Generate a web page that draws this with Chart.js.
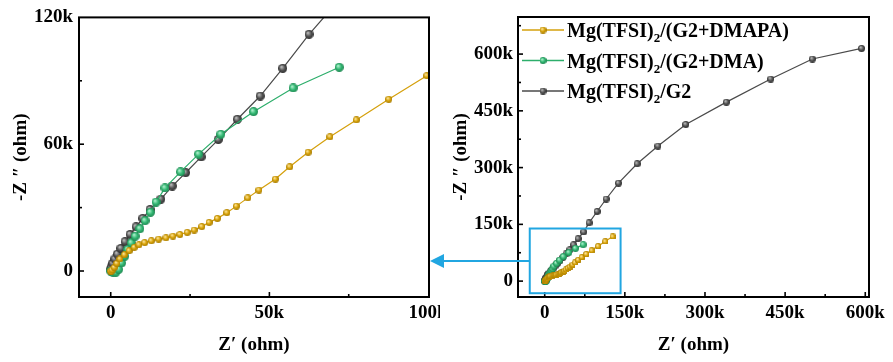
<!DOCTYPE html>
<html>
<head>
<meta charset="utf-8">
<script src="https://cdn.jsdelivr.net/npm/chart.js@4.4.0/dist/chart.umd.min.js"></script>
<style>
  html, body { margin: 0; padding: 0; background: #fff; }
  #wrap { position: relative; width: 893px; height: 362px; overflow: hidden; }
  #zoomChart { position: absolute; left: 0; top: 0; }
  #fullChart { position: absolute; left: 425px; top: 0; }
</style>
</head>
<body>
<div id="wrap">
  <canvas id="zoomChart" width="460" height="362"></canvas>
  <canvas id="fullChart" width="468" height="362"></canvas>
</div>
<script>
'use strict'

// values in k-ohm
const seriesNames = ['Mg(TFSI)₂/(G2+DMAPA)', 'Mg(TFSI)₂/(G2+DMA)', 'Mg(TFSI)₂/G2'];

const dmapaX = [0, 0.1, 0.4, 1.1, 1.9, 2.9, 4.3, 5.8, 7.4, 8.9, 10.7, 12.8, 15.1, 17.4, 19.6, 21.8, 24.1, 26.3, 28.7, 31.0, 33.6, 36.6, 39.6, 43.2, 46.7, 51.9, 56.4, 62.2, 69.1, 77.4, 87.6, 99.6, 113, 127];
const dmapaY = [0, -0.2, 0.5, 1.7, 3.6, 5.7, 7.7, 9.6, 11.2, 12.4, 13.4, 14.3, 15.1, 15.7, 16.5, 17.3, 18.3, 19.4, 21.0, 23.0, 24.9, 27.6, 30.7, 34.6, 38.3, 43.5, 49.3, 56.2, 63.5, 71.5, 81.3, 92.4, 105, 118];

const dmaX = [0, 0.7, 1.6, 2.5, 3.4, 4.4, 5.4, 6.5, 7.7, 9.2, 10.8, 12.5, 14.3, 17.1, 22.0, 27.7, 34.7, 45.0, 57.5, 72.0];
const dmaY = [0, -0.7, -0.6, 0.8, 3.8, 7.0, 10.2, 13.3, 16.5, 20.0, 23.8, 27.8, 32.6, 39.3, 46.9, 55.3, 64.7, 75.4, 86.6, 96.4];

const g2X = [0, 0.2, 0.6, 1.3, 2.1, 3.2, 4.5, 6.1, 8.0, 10.1, 12.4, 15.8, 19.4, 23.6, 28.5, 33.9, 39.9, 47.1, 54.2, 62.5, 73, 83, 98, 115, 138, 173, 212, 264, 340, 423, 501, 593];
const g2Y = [0.8, 2.0, 3.6, 5.7, 8.0, 10.7, 13.9, 17.3, 20.9, 24.9, 29.1, 34.0, 40.2, 46.5, 54.0, 62.2, 71.8, 82.8, 95.9, 112, 130, 154, 184, 217, 259, 310, 357, 414, 473, 534, 587, 615];

const zoomXTicks = [0, 50, 100];
const zoomYTicks = [0, 60, 120];
const fullXTicks = [0, 150, 300, 450, 600];
const fullYTicks = [0, 150, 300, 450, 600];

const lineColors = ['#D5A00C', '#2DAE6B', '#4A4A4A'];
const ballColors = [
  ['#FFE7A0', '#D9A307', '#A77B00'],
  ['#AEF0CC', '#33B873', '#1D8650'],
  ['#BDBDBD', '#555555', '#2B2B2B']
];

const FONT = '"Liberation Serif", "Times New Roman", serif';
Chart.defaults.font.family = FONT;
Chart.defaults.font.weight = 'bold';
Chart.defaults.color = '#000';

function toPoints(xs, ys) {
  return xs.map((x, i) => ({x: x, y: ys[i]}));
}

function makeBall(colors, d) {
  const c = document.createElement('canvas');
  c.width = c.height = d;
  const g = c.getContext('2d');
  const r = d / 2;
  const grad = g.createRadialGradient(r * 0.7, r * 0.65, r * 0.1, r, r, r);
  grad.addColorStop(0, colors[0]);
  grad.addColorStop(0.55, colors[1]);
  grad.addColorStop(1, colors[2]);
  g.fillStyle = grad;
  g.beginPath();
  g.arc(r, r, r, 0, Math.PI * 2);
  g.fill();
  return c;
}

function kLabel(v) {
  return v === 0 ? '0' : v + 'k';
}

// box + inward major/minor ticks on bottom and left
const framePlugin = {
  id: 'frame',
  afterDraw(chart) {
    const {ctx, chartArea: a, scales} = chart;
    const x = scales.x, y = scales.y;
    ctx.save();
    ctx.strokeStyle = '#000';
    ctx.lineWidth = 2;
    ctx.strokeRect(a.left, a.top, a.right - a.left, a.bottom - a.top);
    ctx.lineWidth = 1.6;

    function minors(vals) {
      const step = vals[1] - vals[0];
      const out = [];
      for (let i = -1; i < vals.length; i++) out.push(vals[0] + step * (i + 0.5));
      return out;
    }
    function tickX(v, len) {
      const px = x.getPixelForValue(v);
      if (px < a.left + 2 || px > a.right - 2) return;
      ctx.beginPath(); ctx.moveTo(px, a.bottom); ctx.lineTo(px, a.bottom - len); ctx.stroke();
    }
    function tickY(v, len) {
      const py = y.getPixelForValue(v);
      if (py < a.top + 2 || py > a.bottom - 2) return;
      ctx.beginPath(); ctx.moveTo(a.left, py); ctx.lineTo(a.left + len, py); ctx.stroke();
    }
    const xv = x.ticks.map(t => t.value), yv = y.ticks.map(t => t.value);
    xv.forEach(v => tickX(v, 5));
    yv.forEach(v => tickY(v, 5));
    minors(xv).forEach(v => tickX(v, 3));
    minors(yv).forEach(v => tickY(v, 3));
    ctx.restore();
  }
};

function makeDatasets(sizes) {
  const sets = [[dmapaX, dmapaY], [dmaX, dmaY], [g2X, g2Y]];
  return sets.map((s, i) => {
    const ball = makeBall(ballColors[i], sizes[i]);
    return {
      label: seriesNames[i],
      data: toPoints(s[0], s[1]),
      showLine: true,
      borderColor: lineColors[i],
      borderWidth: 1.2,
      pointStyle: ball,
      pointRadius: sizes[i] / 2,
      pointHoverRadius: sizes[i] / 2
    };
  });
}

function axes(o) {
  return {
    x: {
      type: 'linear', min: o.xMin, max: o.xMax,
      grid: {display: false, drawTicks: false},
      border: {display: false},
      afterBuildTicks: s => { s.ticks = o.xTicks.map(v => ({value: v})); },
      afterFit: s => { s.height = 65; },
      ticks: {font: {size: 19, weight: 'bold'}, padding: 5, maxRotation: 0, autoSkip: false, callback: kLabel},
      title: {display: true, text: 'Z′ (ohm)', font: {size: 19, weight: 'bold'}, padding: {top: 0, bottom: 6}}
    },
    y: {
      type: 'linear', min: o.yMin, max: o.yMax,
      grid: {display: false, drawTicks: false},
      border: {display: false},
      afterBuildTicks: s => { s.ticks = o.yTicks.map(v => ({value: v})); },
      afterFit: s => { s.width = o.yWidth; },
      ticks: {font: {size: 19, weight: 'bold'}, padding: o.yPad, autoSkip: false, callback: kLabel},
      title: {display: true, text: '-Z ″ (ohm)', font: {size: 19, weight: 'bold'}, padding: {top: o.titlePad, bottom: 0}}
    }
  };
}

// left: zoomed view
new Chart(document.getElementById('zoomChart'), {
  type: 'scatter',
  data: {datasets: makeDatasets([7, 9, 9])},
  options: {
    responsive: false,
    animation: false,
    layout: {padding: {top: 16, right: 31, bottom: 0, left: 0}},
    plugins: {legend: {display: false}, tooltip: {enabled: false}},
    scales: axes({xMin: -10, xMax: 100.3, yMin: -12.3, yMax: 120, xTicks: zoomXTicks, yTicks: zoomYTicks, yWidth: 79, yPad: 6, titlePad: 10})
  },
  plugins: [framePlugin]
});

// zoom window drawn on the full view, in data units
const zoomBox = {x0: -28, x1: 142, y0: -32, y1: 139, arrowY: 53};

const whitePlugin = {
  id: 'white',
  beforeDraw(chart) {
    const ctx = chart.ctx;
    ctx.save();
    ctx.fillStyle = '#fff';
    ctx.fillRect(15, 0, chart.width - 15, chart.height);
    ctx.restore();
  }
};

const boxPlugin = {
  id: 'zoomBox',
  afterDraw(chart) {
    const {ctx, scales: {x, y}} = chart;
    const l = x.getPixelForValue(zoomBox.x0), r = x.getPixelForValue(zoomBox.x1);
    const t = y.getPixelForValue(zoomBox.y1), b = y.getPixelForValue(zoomBox.y0);
    const ay = y.getPixelForValue(zoomBox.arrowY);
    ctx.save();
    ctx.strokeStyle = '#21A6E1';
    ctx.fillStyle = '#21A6E1';
    ctx.lineWidth = 2;
    ctx.strokeRect(l, t, r - l, b - t);
    const tip = 5;
    ctx.beginPath(); ctx.moveTo(l, ay); ctx.lineTo(tip + 12, ay); ctx.stroke();
    ctx.beginPath();
    ctx.moveTo(tip, ay);
    ctx.lineTo(tip + 14, ay - 7);
    ctx.lineTo(tip + 14, ay + 7);
    ctx.closePath();
    ctx.fill();
    ctx.restore();
  }
};

const legendBalls = ballColors.map(c => makeBall(c, 7));

const legendPlugin = {
  id: 'innerLegend',
  afterDraw(chart) {
    const {ctx, chartArea: a} = chart;
    ctx.save();
    seriesNames.forEach((name, i) => {
      const ly = a.top + 13 + i * 30.5;
      const x0 = a.left + 4, x1 = a.left + 46;
      ctx.strokeStyle = lineColors[i];
      ctx.lineWidth = 1.5;
      ctx.beginPath(); ctx.moveTo(x0, ly); ctx.lineTo(x1, ly); ctx.stroke();
      ctx.drawImage(legendBalls[i], (x0 + x1) / 2 - 3.5, ly - 3.5);
      const parts = name.split('₂');
      let tx = a.left + 49;
      ctx.fillStyle = '#000';
      ctx.textBaseline = 'middle';
      parts.forEach((p, j) => {
        ctx.font = 'bold 20px ' + FONT;
        ctx.fillText(p, tx, ly + 2);
        tx += ctx.measureText(p).width;
        if (j < parts.length - 1) {
          ctx.font = 'bold 13px ' + FONT;
          ctx.fillText('2', tx, ly + 9);
          tx += ctx.measureText('2').width;
        }
      });
    });
    ctx.restore();
  }
};

// right: full view
new Chart(document.getElementById('fullChart'), {
  type: 'scatter',
  data: {datasets: makeDatasets([6.5, 7, 7])},
  options: {
    responsive: false,
    animation: false,
    layout: {padding: {top: 17, right: 24, bottom: 0, left: 0}},
    plugins: {legend: {display: false}, tooltip: {enabled: false}},
    scales: axes({xMin: -50, xMax: 607, yMin: -42, yMax: 698, xTicks: fullXTicks, yTicks: fullYTicks, yWidth: 93, yPad: 5, titlePad: 25})
  },
  plugins: [whitePlugin, framePlugin, boxPlugin, legendPlugin]
});
</script>
</body>
</html>
